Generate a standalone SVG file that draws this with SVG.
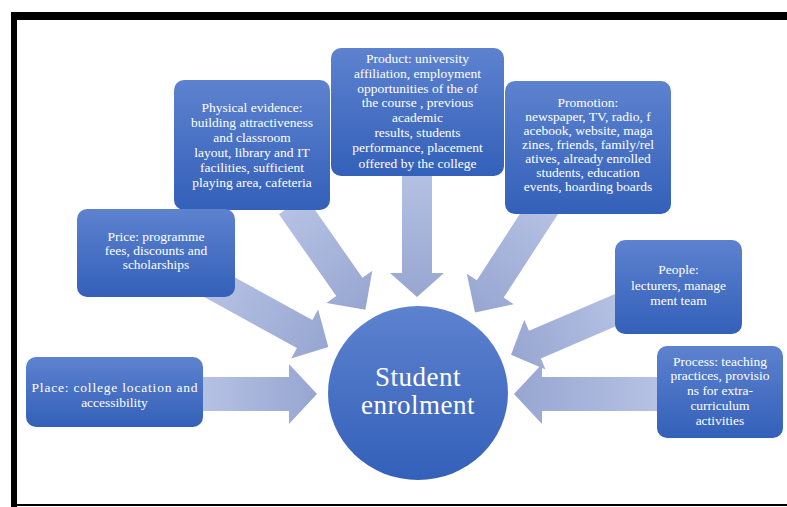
<svg xmlns="http://www.w3.org/2000/svg" width="787" height="507" viewBox="0 0 787 507">
  <defs>
    <linearGradient id="boxFill" x1="0" y1="0" x2="0" y2="1">
      <stop offset="0" stop-color="#5d82cf"/>
      <stop offset="1" stop-color="#3360b9"/>
    </linearGradient>
    <linearGradient id="arrowFill" x1="0" y1="0" x2="1" y2="0">
      <stop offset="0" stop-color="#b6c2e4"/>
      <stop offset="1" stop-color="#97a6d1"/>
    </linearGradient>
    <style>
      .box { fill: url(#boxFill); }
      .arrow { fill: url(#arrowFill); }
      .lbl { font-family: "Liberation Serif", "Times New Roman", serif; font-size: 13.5px; fill: #ffffff; text-anchor: middle; }
      .big { font-family: "Liberation Serif", "Times New Roman", serif; font-size: 27px; fill: #ffffff; text-anchor: middle; letter-spacing: 0.5px; }
    </style>
  </defs>

  <rect x="0" y="0" width="787" height="507" fill="#ffffff"/>

  <!-- frame -->
  <rect x="11" y="12" width="776" height="8" fill="#000000"/>
  <rect x="11" y="12" width="6" height="495" fill="#000000"/>
  <rect x="11" y="504" width="776" height="2" fill="#000000"/>

  <!-- block arrows pointing at the centre -->
  <g id="connectors">
    <path class="arrow" transform="translate(200,394)" d="M0,-17 H89 V-30 L117,0 L89,30 V17 H0 Z"/>
    <path class="arrow" transform="translate(660,394) rotate(180)" d="M0,-17 H118 V-30 L146,0 L118,30 V17 H0 Z"/>
    <path class="arrow" transform="translate(417,170) rotate(90)" d="M0,-15 H103 V-27 L127,0 L103,27 V15 H0 Z"/>
    <path class="arrow" transform="translate(548,200) rotate(123)" d="M0,-16 H106 V-28 L134,0 L106,28 V16 H0 Z"/>
    <path class="arrow" transform="translate(625,306) rotate(156.8)" d="M0,-15 H98 V-27 L124,0 L98,27 V15 H0 Z"/>
    <path class="arrow" transform="translate(292,205) rotate(55)" d="M0,-16 H100 V-28 L128,0 L100,28 V16 H0 Z"/>
    <path class="arrow" transform="translate(210,282) rotate(28.8)" d="M0,-16 H108 V-28 L135,0 L108,28 V16 H0 Z"/>
  </g>

  <g id="enrolment">
    <ellipse cx="418" cy="393" rx="90" ry="87" fill="url(#boxFill)"/>
    <text class="big" x="418" y="386">Student</text>
    <text class="big" x="418" y="414">enrolment</text>
  </g>

  <g id="product">
    <rect class="box" x="331" y="48" width="173" height="128" rx="10"/>
    <text class="lbl" x="417.5" y="63">Product: university</text>
    <text class="lbl" x="417.5" y="78">affiliation, employment</text>
    <text class="lbl" x="417.5" y="93">opportunities of the of</text>
    <text class="lbl" x="417.5" y="107">the course , previous</text>
    <text class="lbl" x="417.5" y="122">academic</text>
    <text class="lbl" x="417.5" y="137">results, students</text>
    <text class="lbl" x="417.5" y="152">performance, placement</text>
    <text class="lbl" x="417.5" y="168">offered by the college</text>
  </g>

  <g id="physical-evidence">
    <rect class="box" x="174" y="80" width="156" height="130" rx="10"/>
    <text class="lbl" x="252" y="112">Physical evidence:</text>
    <text class="lbl" x="252" y="127">building attractiveness</text>
    <text class="lbl" x="252" y="142">and classroom</text>
    <text class="lbl" x="252" y="157">layout, library and IT</text>
    <text class="lbl" x="252" y="172">facilities, sufficient</text>
    <text class="lbl" x="252" y="187">playing area, cafeteria</text>
  </g>

  <g id="promotion">
    <rect class="box" x="505" y="81" width="166" height="133" rx="10"/>
    <text class="lbl" x="588" y="107">Promotion:</text>
    <text class="lbl" x="588" y="121">newspaper, TV, radio, f</text>
    <text class="lbl" x="588" y="135">acebook, website, maga</text>
    <text class="lbl" x="588" y="149">zines, friends, family/rel</text>
    <text class="lbl" x="588" y="163">atives, already enrolled</text>
    <text class="lbl" x="588" y="177">students, education</text>
    <text class="lbl" x="588" y="191">events, hoarding boards</text>
  </g>

  <g id="price">
    <rect class="box" x="77" y="209" width="158" height="88" rx="10"/>
    <text class="lbl" x="156" y="241">Price: programme</text>
    <text class="lbl" x="156" y="255">fees, discounts and</text>
    <text class="lbl" x="156" y="269">scholarships</text>
  </g>

  <g id="people">
    <rect class="box" x="615" y="240" width="127" height="94" rx="10"/>
    <text class="lbl" x="678.5" y="274">People:</text>
    <text class="lbl" x="678.5" y="290">lecturers, manage</text>
    <text class="lbl" x="678.5" y="305">ment team</text>
  </g>

  <g id="process">
    <rect class="box" x="657" y="346" width="126" height="92" rx="10"/>
    <text class="lbl" x="720" y="366">Process: teaching</text>
    <text class="lbl" x="720" y="380">practices, provisio</text>
    <text class="lbl" x="720" y="395">ns for extra-</text>
    <text class="lbl" x="720" y="410">curriculum</text>
    <text class="lbl" x="720" y="425">activities</text>
  </g>

  <g id="place">
    <rect class="box" x="26" y="357" width="177" height="70" rx="10"/>
    <text class="lbl" x="114.5" y="392" textLength="166" lengthAdjust="spacing">Place: college location and</text>
    <text class="lbl" x="114.5" y="407">accessibility</text>
  </g>
</svg>
